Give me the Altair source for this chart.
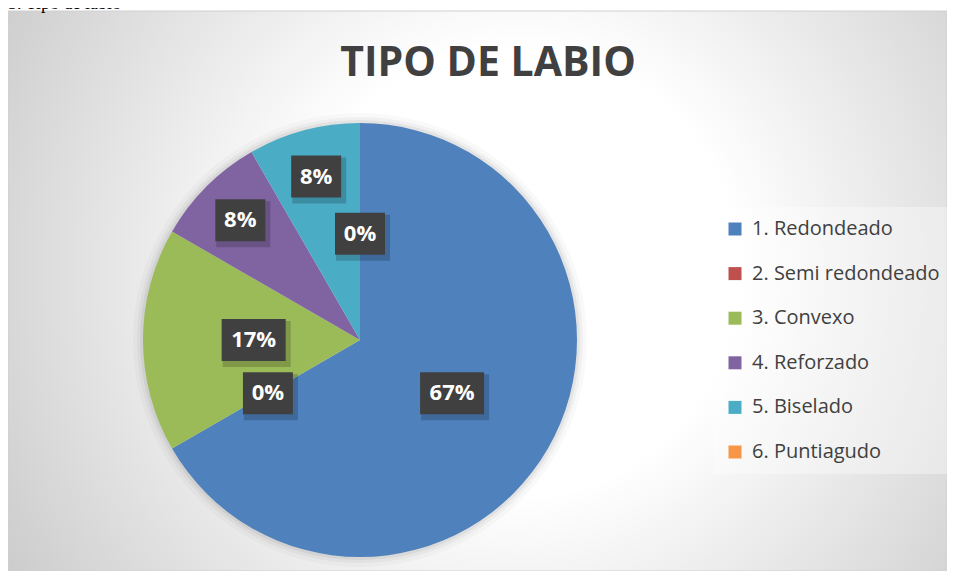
import altair as alt
import pandas as pd

# ---- data ----
categories = ["1. Redondeado", "2. Semi redondeado", "3. Convexo",
              "4. Reforzado", "5. Biselado", "6. Puntiagudo"]
counts = [8, 0, 2, 1, 1, 0]
colors = ["#4F81BD", "#C0504D", "#9BBB59", "#8064A2", "#4BACC6", "#F79646"]
title_text = "TIPO DE LABIO"
caption_text = "3. Tipo de labio"

df = pd.DataFrame({"cat": categories, "value": counts, "idx": list(range(len(categories)))})

# ---- layout constants ----
W, H = 939, 563
CX, CY, R = 352, 332, 217
UNIT = 32.0  # half side (px) of the custom symbol box at size 64^2


def rect_path(hw, hh, dx=0.0, dy=0.0):
    x0, x1 = (-hw + dx) / UNIT, (hw + dx) / UNIT
    y0, y1 = (-hh + dy) / UNIT, (hh + dy) / UNIT
    return f"M{x0:.3f},{y0:.3f}L{x1:.3f},{y0:.3f}L{x1:.3f},{y1:.3f}L{x0:.3f},{y1:.3f}Z"


box3 = rect_path(32, 21)
box2 = rect_path(25, 21)
sh3 = rect_path(34, 23, 3, 4)
sh2 = rect_path(27, 23, 3, 4)

base = alt.Chart(df)

xs = alt.X("ux:Q", scale=alt.Scale(domain=[-1, 1], range=[CX - R, CX + R]), axis=None)
ys = alt.Y("uy:Q", scale=alt.Scale(domain=[-1, 1], range=[CY + R, CY - R]), axis=None)

labels_base = base.transform_joinaggregate(
    total="sum(value)"
).transform_window(
    cum="sum(value)", sort=[alt.SortField("idx")], frame=[None, 0]
).transform_calculate(
    pct="datum.value / datum.total",
    mid="(datum.cum - datum.value / 2) / datum.total * 2 * PI",
).transform_calculate(
    rf="(datum.pct > 0 && datum.pct < 0.1) ? 0.78 : 0.49",
    label="format(datum.pct, '.0%')",
).transform_calculate(
    ux="datum.rf * sin(datum.mid)",
    uy="datum.rf * cos(datum.mid)",
    box=f"length(datum.label) >= 3 ? '{box3}' : '{box2}'",
    shadow=f"length(datum.label) >= 3 ? '{sh3}' : '{sh2}'",
)

# background panel with radial gradient
bg_df = pd.DataFrame({"k": [0]})
background = alt.Chart(bg_df).mark_rect(
    fill=alt.RadialGradient(
        gradient="radial",
        x1=0.54, y1=0.48, r1=0.0,
        x2=0.54, y2=0.48, r2=0.72,
        stops=[alt.GradientStop(offset=0, color="#ffffff"),
               alt.GradientStop(offset=0.33, color="#ffffff"),
               alt.GradientStop(offset=1, color="#c0c0c0")],
    ),
    stroke="#d0d0d0", strokeWidth=1,
).encode(x=alt.value(0), x2=alt.value(W), y=alt.value(3), y2=alt.value(H))

caption = alt.Chart(pd.DataFrame({"t": [caption_text]})).mark_text(
    font="Liberation Serif", fontSize=18, align="left", baseline="alphabetic", color="#000000"
).encode(text="t:N", x=alt.value(0), y=alt.value(1))

title = alt.Chart(pd.DataFrame({"t": [title_text]})).mark_text(
    font="Open Sans", fontSize=41, fontWeight="bold", color="#404040",
    align="center", baseline="alphabetic"
).encode(text="t:N", x=alt.value(480), y=alt.value(68))

# soft glow around pie
glows = []
for extra, op in [(10, 0.025), (6, 0.035), (3, 0.05)]:
    glows.append(base.mark_arc(outerRadius=R + extra, color="#000000", opacity=op).encode(
        theta=alt.Theta("value:Q", stack=True),
        order=alt.Order("idx:Q"),
        x=alt.value(CX), y=alt.value(CY),
    ))

pie = base.mark_arc(outerRadius=R).encode(
    theta=alt.Theta("value:Q", stack=True),
    order=alt.Order("idx:Q"),
    color=alt.Color(
        "cat:N",
        scale=alt.Scale(domain=categories, range=colors),
        sort=categories,
        legend=alt.Legend(
            title=None, orient="none", legendX=705, legendY=199,
            symbolType="square", symbolSize=169, symbolStrokeWidth=0,
            labelFont="Open Sans", labelFontSize=20, labelColor="#404040",
            labelOffset=7, labelLimit=0, rowPadding=24.6, padding=12,
            fillColor="rgba(255,255,255,0.35)",
        ),
    ),
    x=alt.value(CX), y=alt.value(CY),
)

shadow = labels_base.mark_point(filled=True, fill="#000000", opacity=0.18, size=4096, strokeWidth=0).encode(
    x=xs, y=ys, shape=alt.Shape("shadow:N", scale=None)
)
boxes = labels_base.mark_point(filled=True, fill="#404040", opacity=1, size=4096, strokeWidth=0).encode(
    x=xs, y=ys, shape=alt.Shape("box:N", scale=None)
)
texts = labels_base.mark_text(
    font="Open Sans", fontSize=22, fontWeight="bold", color="#ffffff",
    align="center", baseline="middle"
).encode(x=xs, y=ys, text="label:N")

chart = alt.layer(
    background, caption, title, *glows, pie, shadow, boxes, texts
).properties(
    width=W, height=H, autosize=alt.AutoSizeParams(type="none"), padding=0,
    background="#ffffff",
).configure_view(stroke=None)

chart.save("out.html", embed_options={"renderer": "svg", "actions": False})
